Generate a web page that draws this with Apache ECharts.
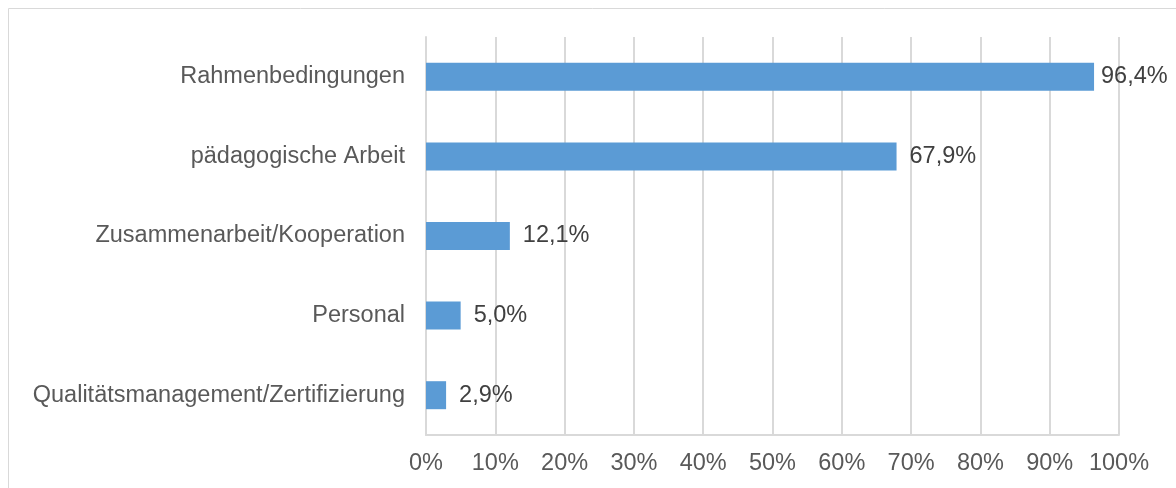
<!DOCTYPE html>
<html>
<head>
<meta charset="utf-8">
<script src="https://cdn.jsdelivr.net/npm/echarts@6/dist/echarts.min.js"></script>
<style>html,body{margin:0;padding:0;background:#fff;}#c{width:1176px;height:488px;}</style>
</head>
<body>
<div id="c"></div>
<script>
const categories = ["Rahmenbedingungen", "pädagogische Arbeit", "Zusammenarbeit/Kooperation", "Personal", "Qualitätsmanagement/Zertifizierung"];
const values = [96.4, 67.9, 12.1, 5.0, 2.9];
const tickLabels = ["0%", "10%", "20%", "30%", "40%", "50%", "60%", "70%", "80%", "90%", "100%"];

const chart = echarts.init(document.getElementById('c'), null, {renderer: 'canvas'});
const font = 'Liberation Sans, Arial, sans-serif';
const fs = 23.5;
chart.setOption({
  animation: false,
  graphic: [{
    type: 'rect', shape: {x: 8.5, y: 8.5, width: 1300, height: 700},
    style: {fill: 'none', stroke: '#d9d9d9', lineWidth: 1}, silent: true
  }],
  grid: {left: 426, right: 57, top: 37, bottom: 53, containLabel: false},
  xAxis: {
    type: 'value', min: 0, max: 100, interval: 10,
    axisLine: {show: true, lineStyle: {color: '#d9d9d9', width: 2}},
    axisTick: {show: false},
    splitLine: {show: true, lineStyle: {color: '#d9d9d9', width: 2}},
    axisLabel: {
      margin: 17, color: '#595959', fontFamily: font, fontSize: fs,
      formatter: function (v) { return tickLabels[Math.round(v / 10)]; }
    }
  },
  yAxis: {
    type: 'category', data: categories, inverse: true,
    axisLine: {show: true, lineStyle: {color: '#d9d9d9', width: 2}},
    axisTick: {show: false},
    axisLabel: {margin: 21, color: '#595959', fontFamily: font, fontSize: fs}
  },
  series: [{
    type: 'bar',
    data: values.map(function (v, i) {
      return i === 0 ? {value: v, label: {distance: 7}} : v;
    }),
    barWidth: 28,
    itemStyle: {color: '#5b9bd5'},
    label: {
      show: true, position: 'right', distance: 13,
      color: '#404040', fontFamily: font, fontSize: fs,
      formatter: function (p) { return p.value.toFixed(1).replace('.', ',') + '%'; }
    }
  }]
});
</script>
</body>
</html>
